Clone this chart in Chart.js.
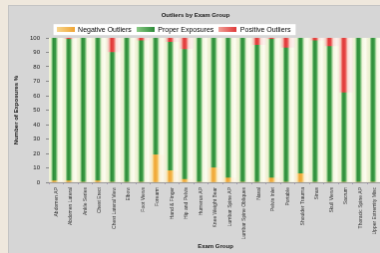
<!DOCTYPE html>
<html>
<head>
<meta charset="utf-8">
<script src="https://cdn.jsdelivr.net/npm/chart.js@4.4.1/dist/chart.umd.min.js"></script>
<style>
  html, body { margin: 0; padding: 0; background: #efe8dd; overflow: hidden; }
  #wrap { position: absolute; left: 8px; top: 5px; width: 380px; height: 248px; }
  #chart { background: #d6d6d6; border-top: 1px solid #c4c4c4; border-left: 1px solid #c4c4c4; }
</style>
</head>
<body>
<div id="wrap"><canvas id="chart" width="380" height="248"></canvas></div>
<script>
// ── data ──
const examGroups = [
  'Abdomen AP', 'Abdomen Lateral', 'Ankle Series', 'Chest Erect', 'Chest Lateral View',
  'Elbow', 'Foot Views', 'Forearm', 'Hand & Finger', 'Hip and Pelvis',
  'Humerus AP', 'Knee Weight Bear', 'Lumbar Spine AP', 'Lumbar Spine Obliques', 'Nasal',
  'Pelvis Inlet', 'Portable', 'Shoulder Trauma', 'Sinus', 'Skull Views',
  'Sacrum', 'Thoracic Spine AP', 'Upper Extremity Misc'
];
const negativeOutliers = [1, 1, 0, 1, 0, 0, 0, 19, 8, 2, 0, 10, 3, 0, 0, 3, 0, 6, 0, 0, 0, 0, 0];
const positiveOutliers = [0, 1, 0, 0, 10, 0, 2, 0, 3, 8, 0, 0, 0, 0, 5, 1, 7, 0, 2, 6, 38, 0, 0];
const properExposures  = negativeOutliers.map((n, i) => 100 - n - positiveOutliers[i]);
const yTicks = [0, 10, 20, 30, 40, 50, 60, 70, 80, 90, 100];

// gradient stops for each series, across one category slot
const greenStops  = [[0, '#f2f3da'], [0.14, '#e6f0cc'], [0.22, '#7cc27a'], [0.3, '#2e8c3a'], [0.46, '#3a9c45'], [0.56, '#a8d6a0'], [0.64, '#f4f7e0'], [0.85, '#fdfdf1'], [1, '#f3f1d8']];
const orangeStops = [[0, '#f8f1da'], [0.14, '#f8e6b8'], [0.22, '#f5c66c'], [0.3, '#f0a636'], [0.46, '#f3b448'], [0.56, '#f8d890'], [0.64, '#fcf1d6'], [0.85, '#fdf8ea'], [1, '#f6efd8']];
const redStops    = [[0, '#f8e6de'], [0.14, '#f4c4bc'], [0.22, '#ee7c74'], [0.3, '#e03838'], [0.46, '#e84848'], [0.56, '#f2a098'], [0.64, '#fbe0da'], [0.85, '#fdf2ee'], [1, '#f6e6de']];

function stripe(stops) {
  return (c) => {
    const chart = c.chart;
    const xs = chart.scales && chart.scales.x;
    if (!chart.chartArea || !xs || c.dataIndex === undefined) return stops[4][1];
    const mid = xs.getPixelForValue(c.dataIndex);
    const w = xs.width / examGroups.length;
    const g = chart.ctx.createLinearGradient(mid - w / 2, 0, mid + w / 2, 0);
    stops.forEach(([p, col]) => g.addColorStop(p, col));
    return g;
  };
}

function swatch(light, dark) {
  const cv = document.createElement('canvas');
  cv.width = 18; cv.height = 5;
  const x = cv.getContext('2d');
  const g = x.createLinearGradient(0, 0, 18, 0);
  g.addColorStop(0, light); g.addColorStop(1, dark);
  x.fillStyle = g; x.fillRect(0, 0, 18, 5);
  return cv;
}
const swatches = [swatch('#f8d890', '#f0a636'), swatch('#8ccc88', '#2e8c3a'), swatch('#f2a098', '#e03838')];

const legendBack = {
  id: 'legendBack',
  afterLayout(chart) {
    const lg = chart.legend;
    lg.left -= 22; lg.right -= 22;
  },
  beforeDraw(chart) {
    const lg = chart.legend;
    if (!lg || !lg.lineWidths) return;
    const pad = lg.options.labels.padding;
    const w = lg.lineWidths[0] - pad;
    const x0 = (lg.left + pad + lg.right - lg.lineWidths[0]) / 2;
    const y0 = lg.top + pad;
    const ctx = chart.ctx;
    ctx.save();
    ctx.fillStyle = '#ffffff';
    ctx.fillRect(x0 - 3, y0 - 2, w + 8, 11);
    ctx.restore();
  }
};

const FONT = "'Liberation Sans', Arial, sans-serif";
Chart.defaults.font.family = FONT;
Chart.defaults.color = '#1a1a1a';

new Chart(document.getElementById('chart'), {
  type: 'bar',
  data: {
    labels: examGroups,
    datasets: [
      { label: 'Negative Outliers', data: negativeOutliers, backgroundColor: stripe(orangeStops) },
      { label: 'Proper Exposures', data: properExposures, backgroundColor: stripe(greenStops) },
      { label: 'Positive Outliers', data: positiveOutliers, backgroundColor: stripe(redStops) }
    ]
  },
  options: {
    responsive: false,
    animation: false,
    layout: { padding: { left: 0, right: 6, top: 0, bottom: 0 } },
    datasets: { bar: { categoryPercentage: 1, barPercentage: 1, borderWidth: 0 } },
    plugins: {
      tooltip: { enabled: false },
      title: {
        display: true,
        text: 'Outliers by Exam Group',
        font: { size: 6, weight: 'bold' },
        padding: { top: 6, bottom: 2 }
      },
      legend: {
        display: true,
        maxHeight: 16.8,
        labels: {
          font: { size: 7 },
          padding: 5,
          usePointStyle: true,
          pointStyleWidth: 18,
          boxHeight: 5,
          generateLabels: (chart) => chart.data.datasets.map((d, i) => ({
            text: d.label,
            fillStyle: '#000',
            strokeStyle: 'transparent',
            lineWidth: 0,
            pointStyle: swatches[i],
            hidden: false,
            datasetIndex: i
          }))
        }
      }
    },
    scales: {
      x: {
        stacked: true,
        afterFit: (s) => { s.height = 71; },
        grid: { display: true, offset: true, drawOnChartArea: false, tickLength: 2, color: '#a496b8' },
        border: { display: true, color: '#9a9a9a' },
        ticks: { autoSkip: false, minRotation: 90, maxRotation: 90, font: { size: 5 }, color: '#333', padding: 3 },
        title: { display: true, text: 'Exam Group', font: { size: 6, weight: 'bold' }, padding: { top: 0, bottom: 3 } }
      },
      y: {
        stacked: true,
        min: 0,
        max: 100,
        afterFit: (s) => { s.width = 40; },
        afterBuildTicks: (s) => { s.ticks = yTicks.map(v => ({ value: v })); },
        grid: { display: true, drawOnChartArea: false, tickLength: 3, color: '#888' },
        border: { display: true, color: '#9a9a9a' },
        ticks: { font: { size: 6 }, color: '#222', padding: 6 },
        title: { display: true, text: 'Number of Exposures %', font: { size: 6, weight: 'bold' }, padding: { top: 4, bottom: 0 } }
      }
    }
  },
  plugins: [legendBack]
});
</script>
</body>
</html>
